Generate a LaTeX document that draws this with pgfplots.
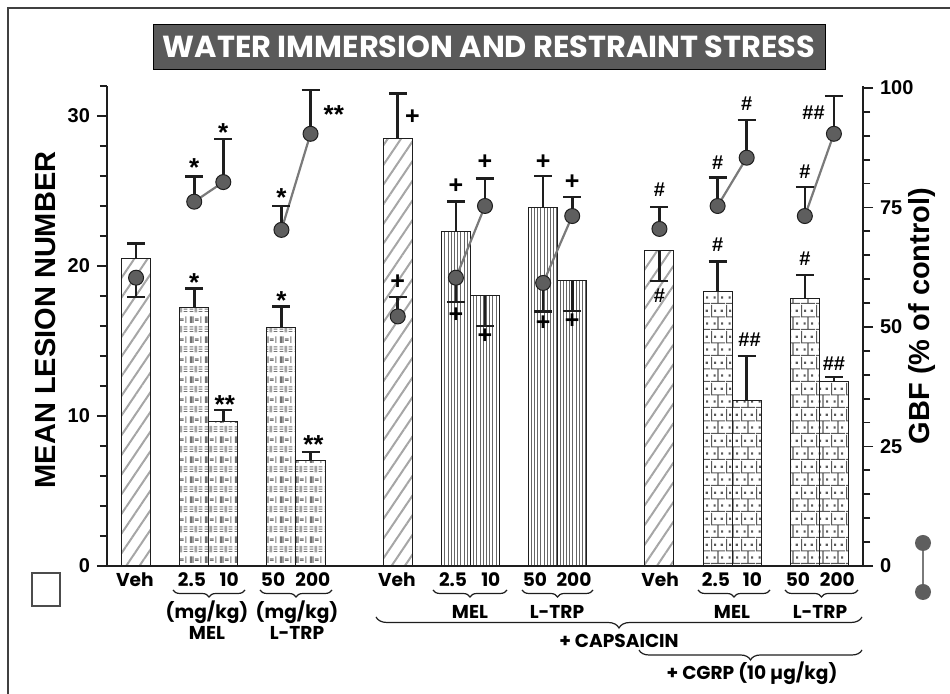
\documentclass[border=0pt]{standalone}
\usepackage{fontspec}
\setmainfont{Liberation Sans}
\newfontfamily\gothic{Poppins}
\usepackage{pgfplots}
\pgfplotsset{compat=1.18}
\usetikzlibrary{patterns,patterns.meta,decorations.pathreplacing}
\definecolor{boxgray}{HTML}{5A5A5A}
\definecolor{dotgray}{HTML}{5E5E5E}
\definecolor{linegray}{HTML}{7A7A7A}
\definecolor{axcol}{HTML}{1E1E1E}

\pgfdeclarepatternformonly{melpat}{\pgfqpoint{0pt}{0pt}}{\pgfqpoint{7.25pt}{10pt}}{\pgfqpoint{7.25pt}{10pt}}{%
  \pgfsetlinewidth{0.5pt}%
  \pgfpathmoveto{\pgfqpoint{0.7pt}{5.8pt}}\pgfpathlineto{\pgfqpoint{0.7pt}{9.2pt}}%
  \pgfpathmoveto{\pgfqpoint{1.4pt}{5.8pt}}\pgfpathlineto{\pgfqpoint{1.4pt}{9.2pt}}%
  \pgfpathmoveto{\pgfqpoint{2.1pt}{5.8pt}}\pgfpathlineto{\pgfqpoint{2.1pt}{9.2pt}}%
  \pgfpathmoveto{\pgfqpoint{3.0pt}{7.1pt}}\pgfpathlineto{\pgfqpoint{5.0pt}{7.1pt}}%
  \pgfpathmoveto{\pgfqpoint{3.0pt}{7.9pt}}\pgfpathlineto{\pgfqpoint{5.0pt}{7.9pt}}%
  \pgfpathmoveto{\pgfqpoint{6.1pt}{5.8pt}}\pgfpathlineto{\pgfqpoint{6.1pt}{9.2pt}}%
  \pgfpathmoveto{\pgfqpoint{0.3pt}{1.3pt}}\pgfpathlineto{\pgfqpoint{2.2pt}{1.3pt}}%
  \pgfpathmoveto{\pgfqpoint{0.3pt}{2.5pt}}\pgfpathlineto{\pgfqpoint{2.2pt}{2.5pt}}%
  \pgfpathmoveto{\pgfqpoint{0.3pt}{3.7pt}}\pgfpathlineto{\pgfqpoint{2.2pt}{3.7pt}}%
  \pgfpathmoveto{\pgfqpoint{3.2pt}{0.8pt}}\pgfpathlineto{\pgfqpoint{3.2pt}{4.2pt}}%
  \pgfpathmoveto{\pgfqpoint{4.0pt}{0.8pt}}\pgfpathlineto{\pgfqpoint{4.0pt}{4.2pt}}%
  \pgfpathmoveto{\pgfqpoint{4.9pt}{1.3pt}}\pgfpathlineto{\pgfqpoint{6.9pt}{1.3pt}}%
  \pgfpathmoveto{\pgfqpoint{4.9pt}{2.5pt}}\pgfpathlineto{\pgfqpoint{6.9pt}{2.5pt}}%
  \pgfpathmoveto{\pgfqpoint{4.9pt}{3.7pt}}\pgfpathlineto{\pgfqpoint{6.9pt}{3.7pt}}%
  \pgfusepath{stroke}%
}
\pgfdeclarepatternformonly{brickdot}{\pgfqpoint{0pt}{0pt}}{\pgfqpoint{7.25pt}{13pt}}{\pgfqpoint{7.25pt}{13pt}}{%
  \pgfsetlinewidth{0.6pt}%
  \pgfpathmoveto{\pgfqpoint{0pt}{0.3pt}}\pgfpathlineto{\pgfqpoint{7.25pt}{0.3pt}}%
  \pgfpathmoveto{\pgfqpoint{0pt}{6.8pt}}\pgfpathlineto{\pgfqpoint{7.25pt}{6.8pt}}%
  \pgfpathmoveto{\pgfqpoint{3.6pt}{0.3pt}}\pgfpathlineto{\pgfqpoint{3.6pt}{6.8pt}}%
  \pgfpathmoveto{\pgfqpoint{0.3pt}{6.8pt}}\pgfpathlineto{\pgfqpoint{0.3pt}{13pt}}%
  \pgfusepath{stroke}%
  \pgfpathrectangle{\pgfqpoint{1.3pt}{2.8pt}}{\pgfqpoint{1.1pt}{1.1pt}}%
  \pgfpathrectangle{\pgfqpoint{5.2pt}{2.8pt}}{\pgfqpoint{1.1pt}{1.1pt}}%
  \pgfpathrectangle{\pgfqpoint{1.6pt}{9.4pt}}{\pgfqpoint{1.1pt}{1.1pt}}%
  \pgfpathrectangle{\pgfqpoint{5.0pt}{9.4pt}}{\pgfqpoint{1.1pt}{1.1pt}}%
  \pgfusepath{fill}%
}

\pgfplotsset{
  ebar/.style={error bars/y explicit,
    error bars/error bar style={line width=1.3pt, axcol, solid},
    error bars/error mark options={rotate=90, line width=1.3pt, axcol, mark size=4.5pt, solid}},
  vehbar/.style={ybar, bar width=1, bar shift=0, draw=axcol, line width=0.5pt,
    pattern={Lines[angle=56,distance=5.5pt,line width=1.0pt]}, pattern color=black!35},
  melbar/.style={ybar, bar width=1, bar shift=0, draw=axcol, line width=0.5pt,
    pattern=melpat, pattern color=black!55},
  capbar/.style={ybar, bar width=1, bar shift=0, draw=axcol, line width=0.5pt,
    pattern={Lines[angle=90,distance=1.6pt,line width=0.5pt]}, pattern color=black!60},
  cgrpbar/.style={ybar, bar width=1, bar shift=0, draw=axcol, line width=0.5pt,
    pattern=brickdot, pattern color=black!65},
  gbfdot/.style={only marks, mark=*, mark size=3.75pt,
    mark options={fill=dotgray, draw=axcol, line width=0.5pt}},
  gbfline/.style={linegray, line width=1.1pt, mark=none},
}

\begin{document}
\begin{tikzpicture}[
  st/.style={font=\bfseries\fontsize{13}{13}\selectfont, inner sep=0pt, yshift=-2.5pt},
  pl/.style={font=\bfseries\fontsize{12.5}{12.5}\selectfont, inner sep=0pt},
  hs/.style={font=\bfseries\fontsize{10}{10}\selectfont, inner sep=0pt},
  gt/.style={font=\gothic\bfseries\fontsize{9.3}{10}\selectfont, inner sep=0pt}]
\useasboundingbox (0pt,0pt) rectangle (475pt,347pt);

\begin{axis}[at={(53.5pt,64pt)}, anchor=south west, scale only axis,
  width=378pt, height=240pt, xmin=0, xmax=26, ymin=0, ymax=32,
  axis x line*=bottom, axis y line*=left,
  axis line style={line width=1.2pt, axcol}, clip=false,
  tick align=outside, major tick length=5pt, minor tick length=3.5pt,
  tick style={line width=0.9pt, axcol},
  ytick={0,10,20,30}, minor ytick={2,4,...,32},
  xtick={0.96,2.92,4.2,5.71,7.08,9.97,11.9,13.2,14.72,16.06,19.02,20.94,22.2,23.76,25.12},
  xticklabels={Veh,2.5,10,50,200,Veh,2.5,10,50,200,Veh,2.5,10,50,200},
  xtick style={draw=none},
  xticklabel style={font=\gothic\bfseries\fontsize{9.3}{10}\selectfont, anchor=base, yshift=-5.5pt},
  yticklabel style={font=\bfseries\fontsize{10}{10}\selectfont},
  /pgf/number format/assume math mode=true]
% Veh bars
\addplot[vehbar, ebar, error bars/y dir=plus] table[x=x, y=y, y error=e] {
x y e
1 20.5 1.0
10 28.5 3.0
};
\addplot[vehbar, ebar, error bars/y dir=minus] table[x=x, y=y, y error=e] {
x y e
19 21.0 2.0
};
% MEL / L-TRP alone
\addplot[melbar, ebar, error bars/y dir=plus] table[x=x, y=y, y error=e] {
x y e
3 17.2 1.3
4 9.6 0.8
6 15.9 1.4
7 7.0 0.6
};
% + capsaicin
\addplot[capbar, ebar, error bars/y dir=plus] table[x=x, y=y, y error=e] {
x y e
12 22.3 2.0
15 23.9 2.1
};
\addplot[capbar, ebar, error bars/y dir=minus] table[x=x, y=y, y error=e] {
x y e
13 18.0 2.0
16 19.0 2.0
};
% + capsaicin + CGRP
\addplot[cgrpbar, ebar, error bars/y dir=plus] table[x=x, y=y, y error=e] {
x y e
21 18.3 2.0
22 11.0 3.0
24 17.8 1.6
25 12.3 0.3
};
% significance marks
\node[st] at (axis cs:3,19.2) {*};
\node[st] at (axis cs:4.05,11.1) {**};
\node[st] at (axis cs:6,18.0) {*};
\node[st] at (axis cs:7.1,8.4) {**};
\node[st] at (axis cs:3,26.9) {*};
\node[st] at (axis cs:4,29.2) {*};
\node[st] at (axis cs:6,24.9) {*};
\node[st] at (axis cs:7.8,30.4) {**};
\node[pl] at (axis cs:10.5,29.9) {+};
\node[pl] at (axis cs:10,18.9) {+};
\node[pl] at (axis cs:12,25.3) {+};
\node[pl] at (axis cs:12,16.7) {+};
\node[pl] at (axis cs:13,26.9) {+};
\node[pl] at (axis cs:13,15.3) {+};
\node[pl] at (axis cs:15,26.9) {+};
\node[pl] at (axis cs:15,16.2) {+};
\node[pl] at (axis cs:16,25.6) {+};
\node[pl] at (axis cs:16,16.3) {+};
\node[hs] at (axis cs:19,25.1) {\#};
\node[hs] at (axis cs:19,18.0) {\#};
\node[hs] at (axis cs:21,26.9) {\#};
\node[hs] at (axis cs:21,21.4) {\#};
\node[hs] at (axis cs:22,30.8) {\#};
\node[hs] at (axis cs:22.1,15.1) {\#\#};
\node[hs] at (axis cs:24,26.3) {\#};
\node[hs] at (axis cs:24,20.5) {\#};
\node[hs] at (axis cs:24.3,30.2) {\#\#};
\node[hs] at (axis cs:25,13.5) {\#\#};
\end{axis}

\begin{axis}[at={(53.5pt,64pt)}, anchor=south west, scale only axis,
  width=378pt, height=240pt, xmin=0, xmax=26, ymin=0, ymax=100.4,
  axis x line=none, axis y line*=right,
  axis line style={line width=1.2pt, axcol},
  tick align=outside, major tick length=5pt, minor tick length=3.5pt,
  tick style={line width=0.9pt, axcol},
  ytick={0,25,50,75,100}, minor ytick={5,10,...,95},
  yticklabel style={font=\bfseries\fontsize{10}{10}\selectfont},
  /pgf/number format/assume math mode=true]
\addplot[gbfline] coordinates {(3,76.2) (4,80.3)};
\addplot[gbfline] coordinates {(6,70.3) (7,90.4)};
\addplot[gbfline] coordinates {(12,60.3) (13,75.3)};
\addplot[gbfline] coordinates {(15,59.2) (16,73.2)};
\addplot[gbfline] coordinates {(21,75.3) (22,85.4)};
\addplot[gbfline] coordinates {(24,73.2) (25,90.4)};
\addplot[gbfdot, ebar, error bars/y dir=plus] table[x=x, y=y, y error=e] {
x y e
3 76.2 5.3
4 80.3 9.0
6 70.3 5.0
7 90.4 9.2
10 52.2 4.1
13 75.3 5.8
16 73.2 4.0
19 70.5 4.6
21 75.3 5.9
22 85.4 7.9
24 73.2 6.1
25 90.4 7.9
};
\addplot[gbfdot, ebar, error bars/y dir=minus] table[x=x, y=y, y error=e] {
x y e
1 60.3 4.0
12 60.3 5.1
15 59.2 6.0
};
\end{axis}

\begin{scope}[x=0.5pt,y=0.5pt]
\draw[line width=0.75pt, black!75] (8,0) -- (8,686) -- (950,686);
\node[fill=boxgray, draw=black, line width=0.4pt, minimum width=336pt, minimum height=22.5pt, inner sep=0pt, text=white, font=\gothic\bfseries\fontsize{15.2}{16}\selectfont] at (489,647.5) {WATER IMMERSION AND RESTRAINT STRESS};

% axis titles
\node[rotate=90, font=\bfseries\fontsize{14.5}{15}\selectfont] at (46,374) {MEAN LESION NUMBER};
\node[rotate=90, font=\bfseries\fontsize{14.5}{15}\selectfont] at (922,378) {GBF (\% of control)};

% legend keys
\draw[black!70, line width=0.6pt] (32,88) rectangle (60,121);
\draw[linegray, line width=1.1pt] (923,151) -- (923,102);
\fill[dotgray] (923,151) circle[radius=4pt];
\fill[dotgray] (923,102) circle[radius=4pt];

% braces
\begin{scope}[line width=0.6pt, axcol]
\draw[decorate, decoration={brace, mirror, amplitude=3.5pt}] (173,104) -- (245,104);
\draw[decorate, decoration={brace, mirror, amplitude=3.5pt}] (260,104) -- (332,104);
\draw[decorate, decoration={brace, mirror, amplitude=3.5pt}] (433,104) -- (507,104);
\draw[decorate, decoration={brace, mirror, amplitude=3.5pt}] (522,104) -- (593,104);
\draw[decorate, decoration={brace, mirror, amplitude=3.5pt}] (698,104) -- (770,104);
\draw[decorate, decoration={brace, mirror, amplitude=3.5pt}] (785,104) -- (858,104);
\draw[decorate, decoration={brace, mirror, amplitude=5.5pt}] (376,77) -- (862,77);
\draw[decorate, decoration={brace, mirror, amplitude=5pt}] (639,44) -- (862,44);
\end{scope}

% group labels
\node[gt] at (207,82) {(mg/kg)};
\node[gt] at (207,61) {MEL};
\node[gt] at (297,82) {(mg/kg)};
\node[gt] at (297,61) {L-TRP};
\node[gt] at (470,82) {MEL};
\node[gt] at (557,82) {L-TRP};
\node[gt] at (732,82) {MEL};
\node[gt] at (820,82) {L-TRP};
\node[gt] at (619,53) {+ CAPSAICIN};
\node[gt] at (752,21) {+ CGRP (10 µg/kg)};
\end{scope}
\end{tikzpicture}
\end{document}
